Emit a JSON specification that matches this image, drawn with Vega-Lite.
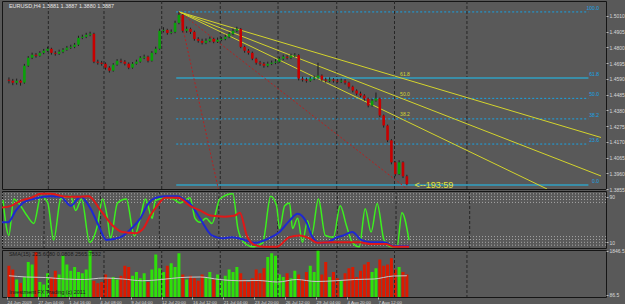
{
"$schema":"https://vega.github.io/schema/vega-lite/v6.json",
"background":"#595959",
"padding":{"left":1,"top":0,"right":0,"bottom":0},
"spacing":2,
"bounds":"flush",
"config":{"view":{"stroke":"#151515","strokeWidth":1},"font":"Liberation Sans",
"axis":{"domain":false,"grid":false,"labelFont":"Liberation Sans","labelFontSize":5,"labelColor":"#d8d8d8","tickColor":"#bbbbbb","tickSize":2,"labelPadding":1,"labelOverlap":false}},
"datasets":{
"grid":[{"i":21.4},{"i":50.2},{"i":80.1},{"i":110.4},{"i":140.3},{"i":170.7},{"i":200.6},{"i":238.1}],
"fibdot":[{"i":87.6,"i2":301,"p":1.5037,"t":"100.0"},{"i":87.6,"i2":301,"p":1.446,"t":"50.0"},{"i":87.6,"i2":301,"p":1.4323,"t":"38.2"},{"i":87.6,"i2":301,"p":1.4155,"t":"23.6"}],
"fibsolid":[{"i":87.6,"i2":301,"p":1.4596,"t":"61.8"},{"i":87.6,"i2":301,"p":1.3882,"t":"0.0"}],
"fan":[{"i":89.2,"p":1.5037,"g":"A"},{"i":307.5,"p":1.4199,"g":"A"},{"i":89.2,"p":1.5037,"g":"B"},{"i":307.5,"p":1.3942,"g":"B"},{"i":89.2,"p":1.5037,"g":"C"},{"i":279.6,"p":1.3855,"g":"C"}],
"fanlab":[{"i":203.5,"p":1.4623,"t":"61.8"},{"i":203.5,"p":1.4489,"t":"50.0"},{"i":203.5,"p":1.4356,"t":"38.2"}],
"redl":[{"i":89.2,"p":1.5037,"g":"S"},{"i":109.4,"p":1.3855,"g":"S"},{"i":89.2,"p":1.5037,"g":"T"},{"i":207.2,"p":1.3855,"g":"T"}],
"maintext":[{"i":1,"p":1.5078,"t":"EURUSD,H4  1.3881 1.3887 1.3880 1.3887"}],
"timer":[{"i":211,"p":1.388,"t":"<--193:59"}],
"candles":[
{"i":1,"o":1.4585,"h":1.46,"l":1.456,"c":1.4578,"v":1250},
{"i":3,"o":1.4578,"h":1.459,"l":1.4548,"c":1.4565,"v":1100},
{"i":5,"o":1.4565,"h":1.4592,"l":1.4552,"c":1.4578,"v":700},
{"i":7,"o":1.4578,"h":1.4585,"l":1.4545,"c":1.4565,"v":560},
{"i":9,"o":1.4565,"h":1.469,"l":1.4558,"c":1.4678,"v":800},
{"i":11,"o":1.4678,"h":1.4742,"l":1.467,"c":1.4731,"v":1400},
{"i":13,"o":1.4731,"h":1.4765,"l":1.4722,"c":1.4751,"v":1300},
{"i":15,"o":1.4751,"h":1.4762,"l":1.4732,"c":1.4744,"v":1800},
{"i":17,"o":1.4744,"h":1.4775,"l":1.4738,"c":1.4764,"v":600},
{"i":19,"o":1.4764,"h":1.479,"l":1.4755,"c":1.4778,"v":500},
{"i":21,"o":1.4778,"h":1.4805,"l":1.477,"c":1.4791,"v":950},
{"i":23,"o":1.4791,"h":1.4798,"l":1.4752,"c":1.4764,"v":800},
{"i":25,"o":1.4764,"h":1.4775,"l":1.4745,"c":1.4758,"v":1050},
{"i":27,"o":1.4758,"h":1.4785,"l":1.475,"c":1.4771,"v":900},
{"i":29,"o":1.4771,"h":1.4795,"l":1.4762,"c":1.4784,"v":1650},
{"i":31,"o":1.4784,"h":1.481,"l":1.4778,"c":1.4798,"v":1300},
{"i":33,"o":1.4798,"h":1.4818,"l":1.479,"c":1.4804,"v":1050},
{"i":35,"o":1.4804,"h":1.483,"l":1.4795,"c":1.4818,"v":1200},
{"i":37,"o":1.4818,"h":1.4878,"l":1.481,"c":1.4864,"v":1000},
{"i":39,"o":1.4864,"h":1.4885,"l":1.4855,"c":1.4871,"v":950},
{"i":41,"o":1.4871,"h":1.4898,"l":1.4862,"c":1.4884,"v":1100},
{"i":43,"o":1.4884,"h":1.4905,"l":1.4875,"c":1.4891,"v":1850},
{"i":45,"o":1.4891,"h":1.4898,"l":1.4695,"c":1.4705,"v":650},
{"i":47,"o":1.4705,"h":1.4718,"l":1.4685,"c":1.4698,"v":550},
{"i":49,"o":1.4698,"h":1.471,"l":1.4678,"c":1.4691,"v":600},
{"i":51,"o":1.4691,"h":1.47,"l":1.4652,"c":1.4665,"v":900},
{"i":53,"o":1.4665,"h":1.4675,"l":1.4632,"c":1.4645,"v":750},
{"i":55,"o":1.4645,"h":1.4695,"l":1.4638,"c":1.4685,"v":800},
{"i":57,"o":1.4685,"h":1.4722,"l":1.4678,"c":1.4711,"v":700},
{"i":59,"o":1.4711,"h":1.4725,"l":1.4695,"c":1.4705,"v":850},
{"i":61,"o":1.4705,"h":1.4715,"l":1.468,"c":1.4691,"v":1250},
{"i":63,"o":1.4691,"h":1.47,"l":1.4655,"c":1.4665,"v":1200},
{"i":65,"o":1.4665,"h":1.4702,"l":1.4658,"c":1.4691,"v":850},
{"i":67,"o":1.4691,"h":1.4718,"l":1.4685,"c":1.4705,"v":1000},
{"i":69,"o":1.4705,"h":1.4742,"l":1.4698,"c":1.4731,"v":750},
{"i":71,"o":1.4731,"h":1.4752,"l":1.4722,"c":1.4738,"v":950},
{"i":73,"o":1.4738,"h":1.4745,"l":1.47,"c":1.4711,"v":600},
{"i":75,"o":1.4711,"h":1.4775,"l":1.4705,"c":1.4764,"v":1100},
{"i":77,"o":1.4764,"h":1.4805,"l":1.4755,"c":1.4791,"v":1700},
{"i":79,"o":1.4791,"h":1.4925,"l":1.4785,"c":1.4911,"v":1150},
{"i":81,"o":1.4911,"h":1.4935,"l":1.49,"c":1.4917,"v":1000},
{"i":83,"o":1.4917,"h":1.4925,"l":1.4885,"c":1.4897,"v":1250},
{"i":85,"o":1.4897,"h":1.492,"l":1.4888,"c":1.4904,"v":1350},
{"i":87,"o":1.4904,"h":1.4978,"l":1.4895,"c":1.4964,"v":1200},
{"i":89,"o":1.4964,"h":1.5037,"l":1.4955,"c":1.5017,"v":1750},
{"i":91,"o":1.5017,"h":1.5022,"l":1.49,"c":1.4911,"v":900},
{"i":93,"o":1.4911,"h":1.494,"l":1.4898,"c":1.4924,"v":700},
{"i":95,"o":1.4924,"h":1.4932,"l":1.489,"c":1.4904,"v":850},
{"i":97,"o":1.4904,"h":1.4912,"l":1.4845,"c":1.4857,"v":750},
{"i":99,"o":1.4857,"h":1.4868,"l":1.4832,"c":1.4844,"v":650},
{"i":101,"o":1.4844,"h":1.4858,"l":1.482,"c":1.4831,"v":900},
{"i":103,"o":1.4831,"h":1.486,"l":1.4822,"c":1.4844,"v":800},
{"i":105,"o":1.4844,"h":1.4872,"l":1.4835,"c":1.4857,"v":1000},
{"i":107,"o":1.4857,"h":1.4865,"l":1.4828,"c":1.4838,"v":700},
{"i":109,"o":1.4838,"h":1.4866,"l":1.483,"c":1.4851,"v":900},
{"i":111,"o":1.4851,"h":1.487,"l":1.4842,"c":1.4857,"v":650},
{"i":113,"o":1.4857,"h":1.4885,"l":1.4848,"c":1.4871,"v":850},
{"i":115,"o":1.4871,"h":1.4902,"l":1.4862,"c":1.4891,"v":1100},
{"i":117,"o":1.4891,"h":1.4925,"l":1.4882,"c":1.4911,"v":1000},
{"i":119,"o":1.4911,"h":1.4938,"l":1.4902,"c":1.4924,"v":1200},
{"i":121,"o":1.4924,"h":1.493,"l":1.4795,"c":1.4804,"v":950},
{"i":123,"o":1.4804,"h":1.4812,"l":1.4765,"c":1.4778,"v":700},
{"i":125,"o":1.4778,"h":1.479,"l":1.4752,"c":1.4764,"v":600},
{"i":127,"o":1.4764,"h":1.4772,"l":1.4715,"c":1.4725,"v":750},
{"i":129,"o":1.4725,"h":1.4732,"l":1.4685,"c":1.4698,"v":1100},
{"i":131,"o":1.4698,"h":1.471,"l":1.4678,"c":1.4691,"v":950},
{"i":133,"o":1.4691,"h":1.4702,"l":1.4665,"c":1.4678,"v":1150},
{"i":135,"o":1.4678,"h":1.4705,"l":1.4668,"c":1.4691,"v":1600},
{"i":137,"o":1.4691,"h":1.4712,"l":1.4682,"c":1.4698,"v":1750},
{"i":139,"o":1.4698,"h":1.4722,"l":1.4688,"c":1.4705,"v":1650},
{"i":141,"o":1.4705,"h":1.4738,"l":1.4698,"c":1.4725,"v":900},
{"i":143,"o":1.4725,"h":1.4752,"l":1.4715,"c":1.4738,"v":800},
{"i":145,"o":1.4738,"h":1.4748,"l":1.472,"c":1.4731,"v":950},
{"i":147,"o":1.4731,"h":1.4758,"l":1.4722,"c":1.4744,"v":750},
{"i":149,"o":1.4744,"h":1.4762,"l":1.4735,"c":1.4748,"v":1050},
{"i":151,"o":1.4748,"h":1.4755,"l":1.458,"c":1.4592,"v":900},
{"i":153,"o":1.4592,"h":1.4605,"l":1.4572,"c":1.4585,"v":700},
{"i":155,"o":1.4585,"h":1.4598,"l":1.4565,"c":1.4578,"v":1000},
{"i":157,"o":1.4578,"h":1.4605,"l":1.457,"c":1.4592,"v":1250},
{"i":159,"o":1.4592,"h":1.4612,"l":1.4582,"c":1.4598,"v":1000},
{"i":161,"o":1.4598,"h":1.4698,"l":1.459,"c":1.4612,"v":1850},
{"i":163,"o":1.4612,"h":1.462,"l":1.4575,"c":1.4585,"v":900},
{"i":165,"o":1.4585,"h":1.4598,"l":1.4565,"c":1.4578,"v":1400},
{"i":167,"o":1.4578,"h":1.46,"l":1.4568,"c":1.4585,"v":800},
{"i":169,"o":1.4585,"h":1.4595,"l":1.4565,"c":1.4578,"v":1000},
{"i":171,"o":1.4578,"h":1.459,"l":1.456,"c":1.4572,"v":750},
{"i":173,"o":1.4572,"h":1.4592,"l":1.4562,"c":1.4578,"v":650},
{"i":175,"o":1.4578,"h":1.4588,"l":1.4552,"c":1.4565,"v":950},
{"i":177,"o":1.4565,"h":1.4572,"l":1.4525,"c":1.4538,"v":1150},
{"i":179,"o":1.4538,"h":1.4545,"l":1.45,"c":1.4512,"v":1200},
{"i":181,"o":1.4512,"h":1.452,"l":1.448,"c":1.4492,"v":800},
{"i":183,"o":1.4492,"h":1.4505,"l":1.4468,"c":1.4479,"v":1050},
{"i":185,"o":1.4479,"h":1.4488,"l":1.4445,"c":1.4459,"v":1300},
{"i":187,"o":1.4459,"h":1.4465,"l":1.44,"c":1.4412,"v":1400},
{"i":189,"o":1.4412,"h":1.4458,"l":1.4405,"c":1.4445,"v":1000},
{"i":191,"o":1.4445,"h":1.4499,"l":1.4438,"c":1.4459,"v":1150},
{"i":193,"o":1.4459,"h":1.4465,"l":1.4335,"c":1.4346,"v":1500},
{"i":195,"o":1.4346,"h":1.4352,"l":1.4265,"c":1.4279,"v":1250},
{"i":197,"o":1.4279,"h":1.4285,"l":1.4168,"c":1.418,"v":1300},
{"i":199,"o":1.418,"h":1.4188,"l":1.402,"c":1.4033,"v":1550},
{"i":201,"o":1.4033,"h":1.404,"l":1.394,"c":1.3954,"v":1100},
{"i":203,"o":1.3954,"h":1.4047,"l":1.3948,"c":1.4033,"v":1200},
{"i":205,"o":1.4033,"h":1.404,"l":1.3928,"c":1.394,"v":1000},
{"i":207,"o":1.394,"h":1.395,"l":1.388,"c":1.3887,"v":900}],
"lev":[{"v":95},{"v":90},{"v":85},{"v":80},{"v":20},{"v":15},{"v":10},{"v":5}],
"og":[{"i":0.5,"v":84},{"i":3.5,"v":22},{"i":6,"v":86},{"i":8.6,"v":78},{"i":12.7,"v":57},{"i":16.2,"v":43},{"i":19.8,"v":91},{"i":23.3,"v":79},{"i":26.3,"v":14},{"i":29.9,"v":86},{"i":35,"v":91},{"i":37.5,"v":66},{"i":40.5,"v":86},{"i":44.6,"v":10},{"i":48.6,"v":40},{"i":51.2,"v":86},{"i":53.7,"v":52},{"i":55.2,"v":17},{"i":58.8,"v":79},{"i":63.3,"v":86},{"i":67.4,"v":21},{"i":70.4,"v":52},{"i":73,"v":86},{"i":76.5,"v":52},{"i":78,"v":83},{"i":83.1,"v":88},{"i":87.1,"v":86},{"i":90.7,"v":79},{"i":95.7,"v":88},{"i":98.3,"v":52},{"i":100.8,"v":45},{"i":103.9,"v":52},{"i":106.9,"v":43},{"i":110.9,"v":86},{"i":117.5,"v":95},{"i":120.1,"v":34},{"i":123.1,"v":10},{"i":127.7,"v":2},{"i":132.7,"v":9},{"i":136.8,"v":91},{"i":139.8,"v":74},{"i":141.3,"v":34},{"i":143.9,"v":74},{"i":146.4,"v":79},{"i":147.9,"v":34},{"i":150.5,"v":52},{"i":153,"v":10},{"i":155.5,"v":48},{"i":157.6,"v":22},{"i":161.1,"v":86},{"i":164.6,"v":22},{"i":168.7,"v":19},{"i":172.2,"v":74},{"i":175.3,"v":40},{"i":178.3,"v":10},{"i":181.9,"v":2},{"i":184.9,"v":69},{"i":187.9,"v":28},{"i":191,"v":78},{"i":194.5,"v":14},{"i":198.1,"v":2},{"i":201.1,"v":2},{"i":203.6,"v":62},{"i":207.2,"v":14}],
"ob":[{"i":0,"v":45},{"i":3,"v":45},{"i":7.1,"v":66},{"i":10.6,"v":79},{"i":15.7,"v":86},{"i":24.8,"v":91},{"i":29.9,"v":90},{"i":35,"v":74},{"i":40,"v":90},{"i":45.1,"v":69},{"i":49.1,"v":40},{"i":53.2,"v":14},{"i":60.3,"v":19},{"i":66.4,"v":36},{"i":70.4,"v":52},{"i":74.5,"v":78},{"i":78,"v":88},{"i":83.1,"v":91},{"i":89.2,"v":91},{"i":93.2,"v":84},{"i":95.7,"v":78},{"i":100.8,"v":52},{"i":106.9,"v":22},{"i":112,"v":17},{"i":117,"v":19},{"i":123.6,"v":14},{"i":128.7,"v":9},{"i":135.3,"v":16},{"i":141.3,"v":28},{"i":146.4,"v":48},{"i":150.5,"v":60},{"i":155,"v":45},{"i":157.6,"v":22},{"i":161.6,"v":9},{"i":165.6,"v":10},{"i":170.7,"v":19},{"i":173.8,"v":22},{"i":178.3,"v":28},{"i":182.9,"v":14},{"i":187.9,"v":10},{"i":194.5,"v":10},{"i":199.6,"v":3},{"i":207.2,"v":3}],
"or":[{"i":0,"v":71},{"i":4.6,"v":74},{"i":9.6,"v":83},{"i":14.7,"v":88},{"i":19.8,"v":95},{"i":24.8,"v":95},{"i":32.4,"v":90},{"i":38.5,"v":90},{"i":44.1,"v":91},{"i":50.2,"v":66},{"i":56.2,"v":40},{"i":61.3,"v":28},{"i":67.9,"v":26},{"i":71.9,"v":34},{"i":75.5,"v":57},{"i":79,"v":74},{"i":83.1,"v":88},{"i":89.7,"v":88},{"i":95.7,"v":74},{"i":100.8,"v":66},{"i":105.9,"v":57},{"i":113.5,"v":55},{"i":118.6,"v":57},{"i":121.1,"v":62},{"i":124.6,"v":22},{"i":128.7,"v":5},{"i":133.7,"v":2},{"i":139.8,"v":2},{"i":146.4,"v":19},{"i":151.5,"v":22},{"i":156.5,"v":17},{"i":160.6,"v":9},{"i":166.7,"v":10},{"i":176.8,"v":10},{"i":181.9,"v":10},{"i":187.9,"v":7},{"i":195.5,"v":7},{"i":199.6,"v":2},{"i":207.2,"v":2}],
"sma":[{"i":1,"v":850},{"i":10,"v":800},{"i":20,"v":780},{"i":30,"v":720},{"i":40,"v":700},{"i":50,"v":760},{"i":60,"v":720},{"i":70,"v":650},{"i":80,"v":700},{"i":90,"v":780},{"i":100,"v":800},{"i":110,"v":700},{"i":120,"v":650},{"i":130,"v":660},{"i":140,"v":600},{"i":150,"v":700},{"i":160,"v":620},{"i":170,"v":650},{"i":180,"v":700},{"i":190,"v":720},{"i":200,"v":840},{"i":207,"v":850}],
"voltext":[{"i":1,"v":1720,"t":"SMA(15) 225.6080 0.0808 2565.7532"},{"i":1,"v":190,"t":"Investment FX Trading (c) 2011"}]
},
"vconcat":[
{"width":604,"height":188,
"encoding":{
"x":{"field":"i","type":"quantitative","scale":{"domain":[0,307.5],"nice":false,"zero":false},"axis":null}},
"layer":[
{"data":{"name":"fibdot"},"mark":{"type":"rule","color":"#17a4e6","strokeDash":[2,2],"strokeWidth":1},
"encoding":{"x2":{"field":"i2"},
"y":{"field":"p","type":"quantitative","scale":{"domain":[1.3855,1.511],"nice":false,"zero":false},
"axis":{"orient":"right","title":null,"labelOverlap":false,"values":[1.3855,1.396,1.4065,1.417,1.4275,1.438,1.4485,1.459,1.4695,1.48,1.4905,1.501],"format":".4f"}}}},
{"data":{"name":"grid"},"mark":{"type":"rule","color":"#262626","strokeDash":[3,2],"strokeWidth":1},
"encoding":{}},
{"data":{"name":"fibsolid"},"mark":{"type":"rule","color":"#3a8ea8","strokeWidth":2},
"encoding":{"x2":{"field":"i2"},
"y":{"field":"p","type":"quantitative","scale":{"domain":[1.3855,1.511],"nice":false,"zero":false},
"axis":{"orient":"right","title":null,"labelOverlap":false,"values":[1.3855,1.396,1.4065,1.417,1.4275,1.438,1.4485,1.459,1.4695,1.48,1.4905,1.501],"format":".4f"}}}},
{"data":{"name":"fibdot"},"mark":{"type":"text","color":"#17a4e6","fontSize":5,"align":"right","baseline":"bottom","dy":-1},
"encoding":{"x":{"datum":306.5,"type":"quantitative","scale":{"domain":[0,307.5],"nice":false,"zero":false},"axis":null},
"y":{"field":"p","type":"quantitative","scale":{"domain":[1.3855,1.511],"nice":false,"zero":false},
"axis":{"orient":"right","title":null,"labelOverlap":false,"values":[1.3855,1.396,1.4065,1.417,1.4275,1.438,1.4485,1.459,1.4695,1.48,1.4905,1.501],"format":".4f"}},"text":{"field":"t"}}},
{"data":{"name":"fibsolid"},"mark":{"type":"text","color":"#17a4e6","fontSize":5,"align":"right","baseline":"bottom","dy":-1},
"encoding":{"x":{"datum":306.5,"type":"quantitative","scale":{"domain":[0,307.5],"nice":false,"zero":false},"axis":null},
"y":{"field":"p","type":"quantitative","scale":{"domain":[1.3855,1.511],"nice":false,"zero":false},
"axis":{"orient":"right","title":null,"labelOverlap":false,"values":[1.3855,1.396,1.4065,1.417,1.4275,1.438,1.4485,1.459,1.4695,1.48,1.4905,1.501],"format":".4f"}},"text":{"field":"t"}}},
{"data":{"name":"redl"},"mark":{"type":"line","color":"#b82020","strokeDash":[2,2],"strokeWidth":1,"clip":true},
"encoding":{
"y":{"field":"p","type":"quantitative","scale":{"domain":[1.3855,1.511],"nice":false,"zero":false},
"axis":{"orient":"right","title":null,"labelOverlap":false,"values":[1.3855,1.396,1.4065,1.417,1.4275,1.438,1.4485,1.459,1.4695,1.48,1.4905,1.501],"format":".4f"}},"detail":{"field":"g"}}},
{"data":{"name":"fan"},"mark":{"type":"line","color":"#d4d42c","strokeWidth":1,"clip":true},
"encoding":{
"y":{"field":"p","type":"quantitative","scale":{"domain":[1.3855,1.511],"nice":false,"zero":false},
"axis":{"orient":"right","title":null,"labelOverlap":false,"values":[1.3855,1.396,1.4065,1.417,1.4275,1.438,1.4485,1.459,1.4695,1.48,1.4905,1.501],"format":".4f"}},"detail":{"field":"g"}}},
{"data":{"name":"fanlab"},"mark":{"type":"text","color":"#d8d830","fontSize":5,"align":"left","baseline":"middle"},
"encoding":{
"y":{"field":"p","type":"quantitative","scale":{"domain":[1.3855,1.511],"nice":false,"zero":false},
"axis":{"orient":"right","title":null,"labelOverlap":false,"values":[1.3855,1.396,1.4065,1.417,1.4275,1.438,1.4485,1.459,1.4695,1.48,1.4905,1.501],"format":".4f"}},"text":{"field":"t"}}},
{"data":{"name":"candles"},"mark":{"type":"rule","color":"#1e1e1e","strokeWidth":1},
"encoding":{
"y":{"field":"l","type":"quantitative","scale":{"domain":[1.3855,1.511],"nice":false,"zero":false},
"axis":{"orient":"right","title":null,"labelOverlap":false,"values":[1.3855,1.396,1.4065,1.417,1.4275,1.438,1.4485,1.459,1.4695,1.48,1.4905,1.501],"format":".4f"}},"y2":{"field":"h"}}},
{"data":{"name":"candles"},"mark":{"type":"bar","width":2.6},
"encoding":{
"y":{"field":"o","type":"quantitative","scale":{"domain":[1.3855,1.511],"nice":false,"zero":false},
"axis":{"orient":"right","title":null,"labelOverlap":false,"values":[1.3855,1.396,1.4065,1.417,1.4275,1.438,1.4485,1.459,1.4695,1.48,1.4905,1.501],"format":".4f"}},"y2":{"field":"c"},
"color":{"condition":{"test":"datum.c >= datum.o","value":"#0aa00a"},"value":"#c80000"}}},
{"data":{"name":"maintext"},"mark":{"type":"text","color":"#e4e4e4","fontSize":5.5,"align":"left","baseline":"middle"},
"encoding":{
"y":{"field":"p","type":"quantitative","scale":{"domain":[1.3855,1.511],"nice":false,"zero":false},
"axis":{"orient":"right","title":null,"labelOverlap":false,"values":[1.3855,1.396,1.4065,1.417,1.4275,1.438,1.4485,1.459,1.4695,1.48,1.4905,1.501],"format":".4f"}},"text":{"field":"t"}}},
{"data":{"name":"timer"},"mark":{"type":"text","color":"#e6e636","fontSize":9,"align":"left","baseline":"middle"},
"encoding":{
"y":{"field":"p","type":"quantitative","scale":{"domain":[1.3855,1.511],"nice":false,"zero":false},
"axis":{"orient":"right","title":null,"labelOverlap":false,"values":[1.3855,1.396,1.4065,1.417,1.4275,1.438,1.4485,1.459,1.4695,1.48,1.4905,1.501],"format":".4f"}},"text":{"field":"t"}}}
]},
{"width":604,"height":57,
"encoding":{
"x":{"field":"i","type":"quantitative","scale":{"domain":[0,307.5],"nice":false,"zero":false},"axis":null}},
"layer":[
{"data":{"name":"lev"},"mark":{"type":"rule","color":"#a8a8a8","strokeDash":[1,2],"strokeWidth":1},
"encoding":{"x":null,"y":{"field":"v","type":"quantitative","scale":{"domain":[0,100],"nice":false,"zero":false},"axis":{"orient":"right","title":null,"values":[10,90]}}}},
{"data":{"name":"grid"},"mark":{"type":"rule","color":"#262626","strokeDash":[3,2],"strokeWidth":1},
"encoding":{}},
{"data":{"name":"og"},"mark":{"type":"line","color":"#3cf01e","strokeWidth":1.5,"interpolate":"monotone","clip":true},
"encoding":{"y":{"field":"v","type":"quantitative","scale":{"domain":[0,100],"nice":false,"zero":false},"axis":{"orient":"right","title":null,"values":[10,90]}}}},
{"data":{"name":"ob"},"mark":{"type":"line","color":"#1e28d2","strokeWidth":2,"interpolate":"monotone","clip":true},
"encoding":{"y":{"field":"v","type":"quantitative","scale":{"domain":[0,100],"nice":false,"zero":false},"axis":{"orient":"right","title":null,"values":[10,90]}}}},
{"data":{"name":"or"},"mark":{"type":"line","color":"#e01818","strokeWidth":2,"interpolate":"monotone","clip":true},
"encoding":{"y":{"field":"v","type":"quantitative","scale":{"domain":[0,100],"nice":false,"zero":false},"axis":{"orient":"right","title":null,"values":[10,90]}}}}
]},
{"width":604,"height":47,
"encoding":{
"x":{"field":"i","type":"quantitative","scale":{"domain":[0,307.5],"nice":false,"zero":false},
"axis":{"orient":"bottom","title":null,"labelOverlap":false,"labelFontSize":4.4,"values":[0,16,32,48,64,80,96,112,128,144,160,176,192],"labelAlign":"left","labelBound":false,
"labelExpr":"['24 Jun 2009','27 Jun 04:00','1 Jul 16:00','4 Jul 08:00','9 Jul 04:00','12 Jul 20:00','16 Jul 12:00','21 Jul 04:00','23 Jul 20:00','26 Jul 12:00','29 Jul 04:00','4 Aug 20:00','7 Aug 12:00'][round(datum.value/16)]"}}},
"layer":[
{"data":{"name":"candles"},"mark":{"type":"bar","width":3},
"encoding":{
"y":{"field":"v","type":"quantitative","scale":{"domain":[0,1880],"nice":false,"zero":false},"axis":{"orient":"right","title":null,"values":[86.5,1846.5],"format":".1f"}},
"color":{"condition":{"test":"datum.c >= datum.o","value":"#2ee00a"},"value":"#dc1a00"}}},
{"data":{"name":"grid"},"mark":{"type":"rule","color":"#262626","strokeDash":[3,2],"strokeWidth":1},
"encoding":{}},
{"data":{"name":"sma"},"mark":{"type":"line","color":"#c8c8c8","strokeWidth":1,"interpolate":"monotone"},
"encoding":{"y":{"field":"v","type":"quantitative","scale":{"domain":[0,1880],"nice":false,"zero":false},"axis":{"orient":"right","title":null,"values":[86.5,1846.5],"format":".1f"}}}},
{"data":{"name":"voltext"},"mark":{"type":"text","color":"#1c1c1c","fontSize":5.5,"align":"left","baseline":"middle"},
"encoding":{"y":{"field":"v","type":"quantitative","scale":{"domain":[0,1880],"nice":false,"zero":false},"axis":{"orient":"right","title":null,"values":[86.5,1846.5],"format":".1f"}},"text":{"field":"t"}}}
]}
]
}
